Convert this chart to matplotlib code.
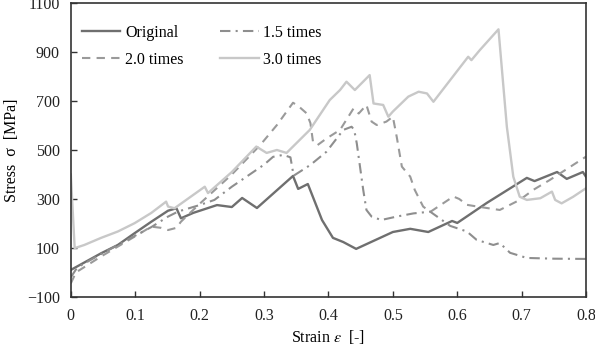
import matplotlib
matplotlib.use("Agg")
import matplotlib.pyplot as plt

plt.rcParams['font.family'] = ['Liberation Serif', 'DejaVu Serif']
plt.rcParams['font.size'] = 11.5
plt.rcParams['mathtext.fontset'] = 'stix'

# stress-strain curves
orig_x = [0, 0.047, 0.073, 0.099, 0.125, 0.151, 0.164, 0.171, 0.19, 0.227, 0.25, 0.266,
          0.289, 0.345, 0.353, 0.368, 0.39, 0.407, 0.423, 0.443, 0.5, 0.527, 0.555,
          0.592, 0.6, 0.646, 0.708, 0.72, 0.755, 0.77, 0.795, 0.8]
orig_y = [10, 78, 112, 160, 207, 252, 262, 221, 243, 275, 267, 304,
          263, 394, 341, 361, 214, 141, 124, 96, 165, 178, 165,
          210, 202, 284, 386, 373, 410, 382, 410, 390]

t15_x = [0, 0.01, 0.047, 0.1, 0.125, 0.151, 0.167, 0.2, 0.223, 0.25, 0.3, 0.314, 0.33,
         0.341, 0.346, 0.372, 0.397, 0.423, 0.436, 0.44, 0.444, 0.449, 0.454, 0.459,
         0.467, 0.482, 0.506, 0.532, 0.558, 0.589, 0.615, 0.63, 0.656, 0.666, 0.682,
         0.708, 0.75, 0.8]
t15_y = [-20, 20, 75, 150, 185, 228, 249, 275, 296, 350, 440, 472, 480,
         470, 395, 439, 493, 582, 595, 582, 527, 432, 337, 255,
         228, 214, 228, 241, 248, 190, 167, 133, 112, 120, 80,
         59, 56, 55]

t20_x = [0, 0.008, 0.047, 0.099, 0.125, 0.14, 0.151, 0.164, 0.171, 0.18, 0.2, 0.25,
         0.294, 0.32, 0.345, 0.353, 0.366, 0.372, 0.376, 0.383, 0.397, 0.418, 0.439,
         0.447, 0.459, 0.467, 0.475, 0.49, 0.5, 0.506, 0.514, 0.527, 0.534, 0.547,
         0.558, 0.594, 0.603, 0.615, 0.631, 0.666, 0.697, 0.718, 0.744, 0.8]
t20_y = [-45, 0, 65, 146, 187, 182, 173, 182, 207, 230, 280, 400,
         520, 602, 693, 680, 650, 610, 534, 520, 547, 582, 670,
         649, 684, 616, 602, 616, 636, 554, 432, 391, 337, 269,
         247, 310, 300, 276, 269, 255, 296, 337, 378, 473]

t30_x = [0, 0.003, 0.006, 0.021, 0.047, 0.073, 0.099, 0.125, 0.148, 0.151, 0.161, 0.208,
         0.213, 0.25, 0.288, 0.304, 0.32, 0.335, 0.371, 0.402, 0.418, 0.428, 0.441,
         0.464, 0.47, 0.485, 0.493, 0.5, 0.524, 0.54, 0.553, 0.563, 0.617, 0.622,
         0.635, 0.664, 0.677, 0.687, 0.697, 0.708, 0.729, 0.747, 0.752, 0.762,
         0.78, 0.8]
t30_y = [400, 250, 99, 112, 141, 167, 201, 243, 289, 269, 262, 350,
         324, 410, 514, 488, 500, 488, 582, 704, 745, 779, 745,
         806, 690, 684, 636, 657, 718, 738, 731, 697, 881, 867,
         908, 993, 595, 391, 309, 296, 303, 330, 296, 282,
         309, 344]

fig, ax = plt.subplots(figsize=(5.95, 3.46), dpi=100)
fig.subplots_adjust(left=0.119, right=0.985, bottom=0.142, top=0.991)

ax.plot(orig_x, orig_y, color='#6f6f6f', lw=1.7, label='Original')
ax.plot(t20_x, t20_y, color='#9a9a9a', lw=1.5, ls=(0, (4, 3)), label='2.0 times')
ax.plot(t15_x, t15_y, color='#8e8e8e', lw=1.5, ls=(0, (5, 2.5, 1, 2.5)), label='1.5 times')
ax.plot(t30_x, t30_y, color='#c8c8c8', lw=1.7, label='3.0 times')

ax.set_xlim(0, 0.8)
ax.set_ylim(-100, 1100)
ax.set_xticks([0, 0.1, 0.2, 0.3, 0.4, 0.5, 0.6, 0.7, 0.8])
ax.set_xticklabels(['0', '0.1', '0.2', '0.3', '0.4', '0.5', '0.6', '0.7', '0.8'])
ax.set_yticks([-100, 100, 300, 500, 700, 900, 1100])
ax.tick_params(direction='in', length=4, width=1, colors='#333333', labelcolor='#222222',
               labelsize=11.5, pad=8)
for s in ax.spines.values():
    s.set_color('#333333')
    s.set_linewidth(1.2)

ax.set_ylabel('Stress  σ  [MPa]', fontsize=11.5, labelpad=5)
ax.set_xlabel(r'Strain $\varepsilon$  [-]', fontsize=11.5, labelpad=3)

ax.legend(ncol=2, loc='upper left', bbox_to_anchor=(0, 0.965), frameon=False,
          fontsize=11.5, handlelength=2.4, columnspacing=2.3, borderaxespad=0.3,
          borderpad=0.4, handletextpad=0.3, labelspacing=0.7)

fig.savefig('out.png', dpi=100)
